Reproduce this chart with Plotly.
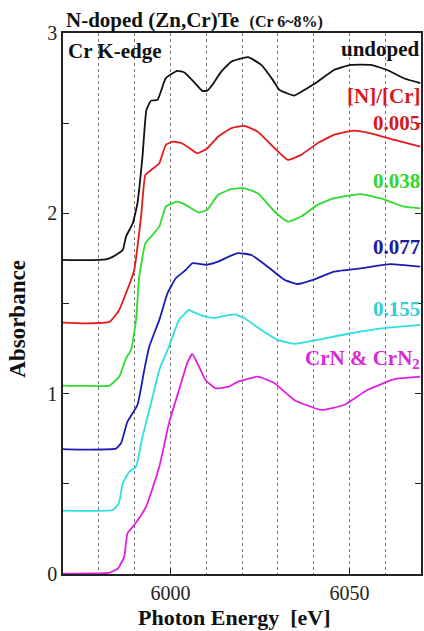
import plotly.graph_objects as go

# ---- data ----
e_undoped = [5970, 5976, 5982, 5984, 5986.7, 5987.6, 5989.5, 5990.8, 5992.2, 5993.3, 5994.6, 5996.4,
             5998.7, 6001.9, 6004, 6006.5, 6008.9, 6010.3, 6012, 6014, 6017, 6021.7, 6025.4, 6028.6,
             6030.5, 6034.6, 6037.4, 6041.1, 6045.7, 6050.4, 6056, 6060.6, 6065.2, 6069.8]
a_undoped = [1.742, 1.74, 1.745, 1.76, 1.797, 1.871, 1.945, 2.056, 2.314, 2.573, 2.625, 2.629,
             2.749, 2.79, 2.78, 2.73, 2.679, 2.68, 2.72, 2.78, 2.841, 2.866, 2.823, 2.74,
             2.684, 2.653, 2.684, 2.73, 2.795, 2.823, 2.823, 2.795, 2.749, 2.722]

e_005 = [5970, 5976, 5983, 5985.7, 5987.6, 5989, 5989.9, 5991.8, 5993, 5994.6, 5996.9, 5998.7,
         6000.6, 6003, 6005.5, 6007.5, 6010.3, 6013.3, 6017, 6020.7, 6024.4, 6029.1, 6032.8,
         6036.5, 6041.1, 6045.7, 6051.3, 6056, 6062.6, 6069.8]
a_005 = [1.394, 1.39, 1.398, 1.464, 1.557, 1.63, 1.686, 1.98, 2.213, 2.24, 2.278, 2.379,
         2.398, 2.39, 2.36, 2.333, 2.36, 2.425, 2.472, 2.485, 2.453, 2.361, 2.296,
         2.324, 2.389, 2.435, 2.459, 2.444, 2.407, 2.37]

e_038 = [5970, 5976, 5983, 5985.7, 5987.6, 5989, 5990.4, 5991.3, 5993, 5994.6, 5996.9, 5998.7,
         6001.9, 6004, 6008, 6010.3, 6013.3, 6017, 6020.7, 6024.4, 6029.1, 6032.8, 6036.5,
         6041.1, 6045.7, 6053.1, 6059.6, 6065.2, 6069.8]
a_038 = [1.045, 1.043, 1.045, 1.094, 1.196, 1.242, 1.409, 1.65, 1.834, 1.871, 1.926, 2.037,
         2.065, 2.05, 2.004, 2.02, 2.102, 2.134, 2.139, 2.111, 2.01, 1.954, 1.982,
         2.047, 2.084, 2.106, 2.078, 2.037, 2.028]

e_077 = [5970, 5977, 5984.8, 5986.2, 5988, 5990.8, 5992.7, 5994.1, 5996.9, 5999.2, 6001.5, 6004.3,
         6006.1, 6010, 6013.3, 6016.3, 6018.9, 6022.6, 6027.2, 6031.9, 6035.6, 6040.2, 6045.7,
         6053.1, 6061.5, 6069.8]
a_077 = [0.693, 0.69, 0.695, 0.725, 0.845, 0.937, 1.131, 1.261, 1.409, 1.557, 1.64, 1.686,
         1.723, 1.715, 1.732, 1.76, 1.779, 1.769, 1.704, 1.631, 1.608, 1.634, 1.677,
         1.695, 1.718, 1.704]

e_155 = [5970, 5977, 5983.9, 5985.6, 5986.7, 5988.5, 5990.4, 5992.2, 5994.6, 5996.9, 5999.6, 6002.4,
         6005.2, 6006.1, 6009.8, 6012.6, 6016.3, 6018, 6020.7, 6025.4, 6030, 6034.6, 6041.1,
         6050.4, 6059.6, 6069.8]
a_155 = [0.351, 0.35, 0.355, 0.392, 0.503, 0.567, 0.595, 0.762, 0.947, 1.131, 1.261, 1.409,
         1.464, 1.455, 1.427, 1.42, 1.436, 1.44, 1.418, 1.353, 1.298, 1.276, 1.298,
         1.335, 1.363, 1.381]

e_crn = [5970, 5978, 5983, 5985.3, 5987.1, 5988, 5989.9, 5993.2, 5996.9, 5999.6, 6002.4, 6004.7,
         6006.1, 6008, 6009.8, 6012.6, 6016.3, 6018.9, 6024.4, 6029.1, 6034.6, 6042, 6048.5,
         6055, 6062.6, 6069.8]
a_crn = [0.002, 0.003, 0.008, 0.03, 0.096, 0.226, 0.272, 0.373, 0.595, 0.836, 1.02, 1.169,
         1.22, 1.15, 1.076, 1.03, 1.039, 1.067, 1.094, 1.058, 0.965, 0.91, 0.937,
         1.02, 1.08, 1.094]

series_names = ["undoped", "0.005", "0.038", "0.077", "0.155", "CrN & CrN<sub>2</sub>"]
series_colors = ["#111111", "#E41A1C", "#2EDC2E", "#1C1CB4", "#2CE0E0", "#E020E0"]
label_colors = ["#111111", "#D81820", "#2ED82E", "#1A1AA8", "#30D0D0", "#D828D8"]
label_y = [2.912, 2.50, 2.18, 1.814, 1.47, 1.195]

x_ticks = [6000, 6050]
y_ticks = [0, 1, 2, 3]

FONT = "Liberation Serif"

series = [(e_undoped, a_undoped), (e_005, a_005), (e_038, a_038),
          (e_077, a_077), (e_155, a_155), (e_crn, a_crn)]

fig = go.Figure()
for (ex, ay), name, col in zip(series, series_names, series_colors):
    fig.add_trace(go.Scatter(x=ex, y=ay, mode="lines", name=name,
                             line=dict(color=col, width=1.8, shape="spline", smoothing=0.4),
                             showlegend=False))

Y0, Y1 = 0, 3
def py_paper(v):
    return (v - Y0) / (Y1 - Y0)

annotations = []
for name, col, yy in zip(series_names, label_colors, label_y):
    annotations.append(dict(x=1.004, y=py_paper(yy), xref="paper", yref="paper",
                            text="<b>%s</b>" % name,
                            showarrow=False, xanchor="right", yanchor="middle",
                            font=dict(family=FONT, size=21, color=col)))
annotations.append(dict(x=1.004, y=py_paper(2.65), xref="paper", yref="paper",
                        text="<b>[N]/[Cr]</b>",
                        showarrow=False, xanchor="right", yanchor="middle",
                        font=dict(family=FONT, size=21, color=label_colors[1])))
annotations.append(dict(x=0.008, y=py_paper(2.90), xref="paper", yref="paper",
                        text="<b>Cr K-edge</b>",
                        showarrow=False, xanchor="left", yanchor="middle",
                        font=dict(family=FONT, size=21, color="#111111")))
annotations.append(dict(x=0.479, y=-0.080, xref="paper", yref="paper",
                        text="<b>Photon Energy  [eV]</b>",
                        showarrow=False, xanchor="center", yanchor="middle",
                        font=dict(family=FONT, size=22, color="#111111")))
annotations.append(dict(x=-0.127, y=0.471, xref="paper", yref="paper",
                        text="<b>Absorbance</b>", textangle=-90,
                        showarrow=False, xanchor="center", yanchor="middle",
                        font=dict(family=FONT, size=23, color="#111111")))

fig.update_layout(
    width=424, height=631,
    margin=dict(l=63, r=1, t=33, b=57),
    paper_bgcolor="white", plot_bgcolor="white",
    font=dict(family=FONT, color="#111111"),
    title=dict(text="<b>N-doped (Zn,Cr)Te</b>  <b><span style='font-size:16px'>(Cr 6~8%)</span></b>",
               x=66 / 424, xanchor="left", y=1 - 20 / 631, yanchor="middle",
               font=dict(family=FONT, size=21, color="#111111")),
    annotations=annotations,
    xaxis=dict(range=[5970, 6070], tickvals=x_ticks, ticks="inside", ticklen=6,
               tickcolor="#222", showline=True, linecolor="#222", linewidth=1.5,
               mirror=True, showgrid=True, gridcolor="#777", griddash="dot", gridwidth=1,
               minor=dict(dtick=10, tick0=5970, showgrid=True, gridcolor="#777",
                          griddash="dot", gridwidth=1, ticks=""),
               tickfont=dict(family=FONT, size=20, color="#222"), zeroline=False),
    yaxis=dict(range=[Y0, Y1], tickvals=y_ticks, ticks="inside",
               ticklen=6, tickcolor="#222", showline=True, linecolor="#222", linewidth=1.5,
               mirror="ticks", showgrid=False, zeroline=False,
               minor=dict(dtick=0.5, tick0=0, ticks="inside", ticklen=6, tickcolor="#222",
                          showgrid=False),
               tickfont=dict(family=FONT, size=20, color="#222")),
)

fig.write_html("out.html")
